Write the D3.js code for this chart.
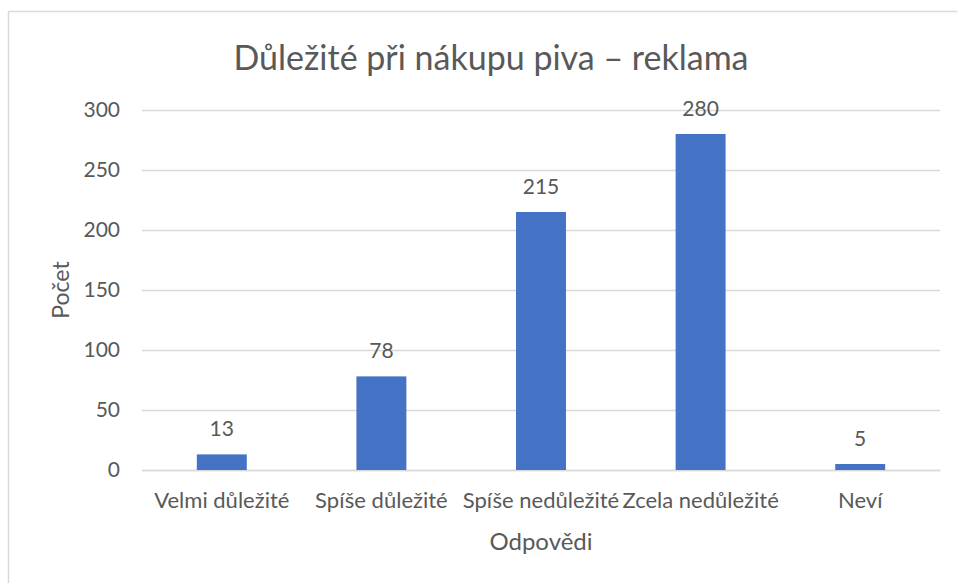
<!DOCTYPE html>
<html>
<head>
<meta charset="utf-8">
<script src="https://cdn.jsdelivr.net/npm/d3@7"></script>
<style>
  body { margin: 0; background: #fff; }
  text { font-family: Lato, "Open Sans", sans-serif; fill: #595959; }
</style>
</head>
<body>
<div id="chart"></div>
<script>
// Data
const categories = ["Velmi důležité", "Spíše důležité", "Spíše nedůležité", "Zcela nedůležité", "Neví"];
const counts = [13, 78, 215, 280, 5];
const yTicks = [0, 50, 100, 150, 200, 250, 300];

const chartTitle = "Důležité při nákupu piva – reklama";
const xTitle = "Odpovědi";
const yTitle = "Počet";

const width = 957;
const height = 583;
const margin = {top: 110, right: 17, bottom: 113, left: 142};
const plotW = width - margin.left - margin.right;
const plotH = height - margin.top - margin.bottom;

const svg = d3.select("#chart")
    .append("svg")
    .attr("width", width)
    .attr("height", height);

// chart frame (cut off at right and bottom like the screenshot)
svg.append("path")
    .attr("d", `M8.5,${height + 2} L8.5,11.5 L${width + 2},11.5`)
    .attr("fill", "none")
    .attr("stroke", "#d9d9d9")
    .attr("stroke-width", 1.5);

const g = svg.append("g")
    .attr("transform", `translate(${margin.left}, ${margin.top})`);

const xScale = d3.scaleBand().domain(categories).range([0, plotW]).padding(0);
const yScale = d3.scaleLinear().domain([0, 300]).range([plotH, 0]);

// Gridlines + y tick labels
const yAxis = g.append("g")
    .call(d3.axisLeft(yScale).tickValues(yTicks).tickSize(-plotW).tickPadding(22));
yAxis.select(".domain").remove();
yAxis.selectAll(".tick line").attr("stroke", "#d9d9d9").attr("stroke-width", 1.3);
yAxis.selectAll(".tick text")
    .style("font-size", "21px")
    .attr("fill", "#595959");

// x axis labels
const xAxis = g.append("g")
    .attr("transform", `translate(0, ${plotH})`)
    .call(d3.axisBottom(xScale).tickSize(0).tickPadding(22));
xAxis.select(".domain").attr("stroke", "#d9d9d9").attr("stroke-width", 1.3);
xAxis.selectAll(".tick text")
    .style("font-size", "22px")
    .attr("fill", "#595959");

// Bars
const barW = xScale.bandwidth() * 0.313;
g.selectAll("rect.bar")
    .data(counts)
    .enter()
    .append("rect")
    .attr("class", "bar")
    .attr("x", (d, i) => xScale(categories[i]) + (xScale.bandwidth() - barW) / 2)
    .attr("y", d => yScale(d))
    .attr("width", barW)
    .attr("height", d => plotH - yScale(d))
    .style("fill", "#4472c4");

// Value labels
g.selectAll("text.val")
    .data(counts)
    .enter()
    .append("text")
    .attr("class", "val")
    .attr("x", (d, i) => xScale(categories[i]) + xScale.bandwidth() / 2)
    .attr("y", d => yScale(d) - 18)
    .attr("text-anchor", "middle")
    .style("font-size", "21px")
    .text(d => d);

// Titles
svg.append("text")
    .attr("x", 491)
    .attr("y", 70)
    .attr("text-anchor", "middle")
    .style("font-size", "34px")
    .text(chartTitle);

svg.append("text")
    .attr("x", margin.left + plotW / 2)
    .attr("y", 550)
    .attr("text-anchor", "middle")
    .style("font-size", "24px")
    .text(xTitle);

svg.append("text")
    .attr("transform", `translate(69, ${margin.top + plotH / 2}) rotate(-90)`)
    .attr("text-anchor", "middle")
    .style("font-size", "23px")
    .text(yTitle);
</script>
</body>
</html>
